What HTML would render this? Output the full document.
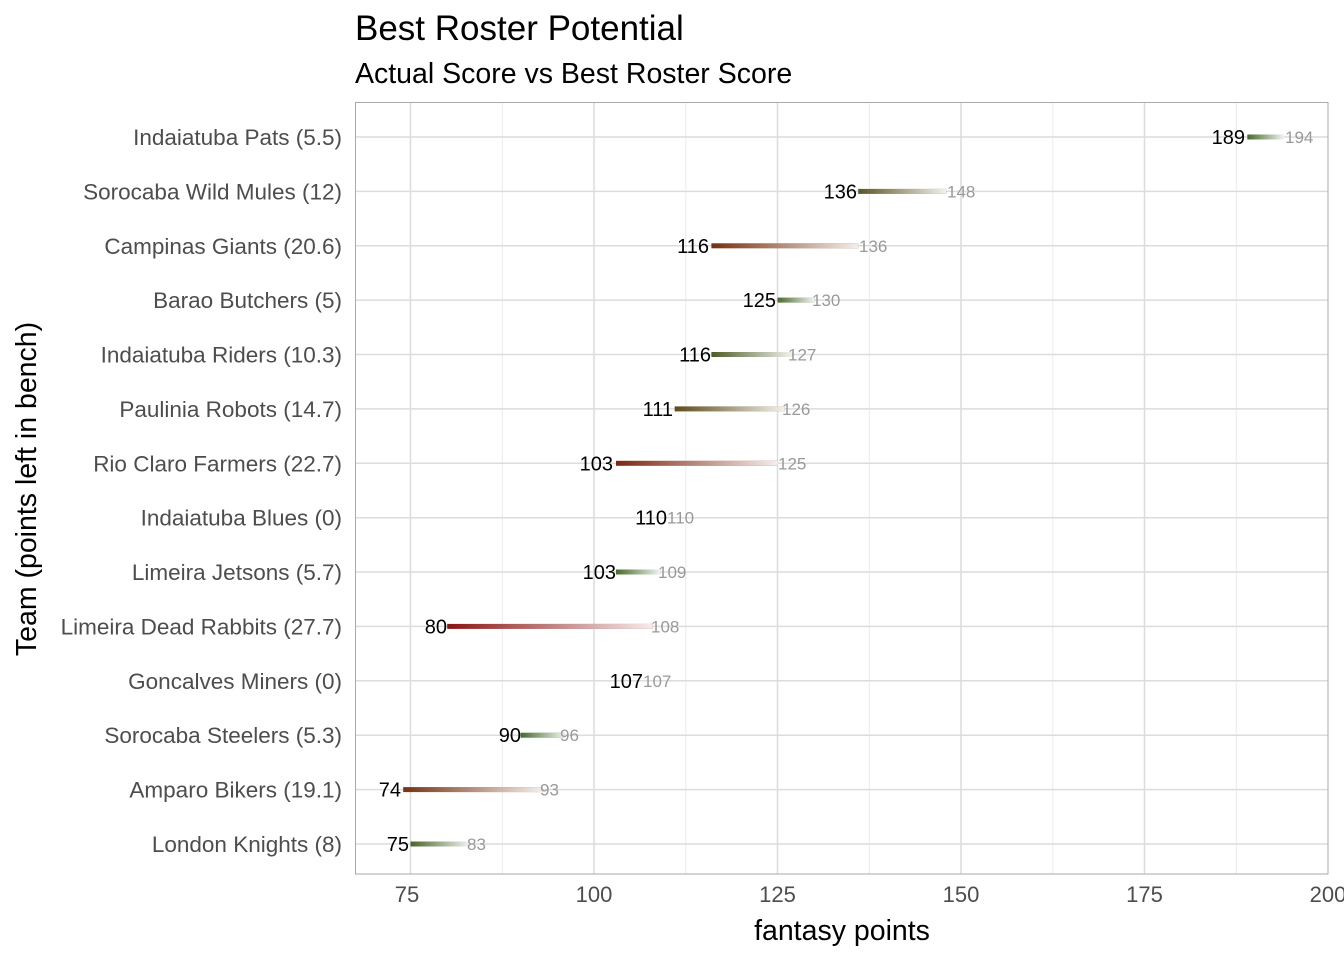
<!DOCTYPE html>
<html><head><meta charset="utf-8"><style>body{margin:0;background:#fff}svg{display:block}</style></head><body>
<svg width="1344" height="960" xmlns="http://www.w3.org/2000/svg" font-family="Liberation Sans, sans-serif">
<defs>
<linearGradient id="g" x1="0" x2="1"><stop offset="0" stop-color="#fff" stop-opacity="0"/><stop offset="1" stop-color="#fff" stop-opacity="0.92"/></linearGradient>
</defs>
<text x="355" y="40" font-size="35" fill="#000">Best Roster Potential</text>
<text x="355" y="83" font-size="28.5" fill="#000">Actual Score vs Best Roster Score</text>
<g stroke="#ebebeb" stroke-width="1">
<line x1="502.3" y1="102" x2="502.3" y2="874"/><line x1="685.8" y1="102" x2="685.8" y2="874"/><line x1="869.3" y1="102" x2="869.3" y2="874"/><line x1="1052.8" y1="102" x2="1052.8" y2="874"/><line x1="1236.3" y1="102" x2="1236.3" y2="874"/>
</g>
<g stroke="#dcdcdc" stroke-width="1.5">
<line x1="410.5" y1="102" x2="410.5" y2="874"/><line x1="594" y1="102" x2="594" y2="874"/><line x1="777.5" y1="102" x2="777.5" y2="874"/><line x1="961" y1="102" x2="961" y2="874"/><line x1="1144.5" y1="102" x2="1144.5" y2="874"/>
<line x1="355" y1="137" x2="1328" y2="137"/><line x1="355" y1="191.4" x2="1328" y2="191.4"/><line x1="355" y1="245.8" x2="1328" y2="245.8"/><line x1="355" y1="300.1" x2="1328" y2="300.1"/><line x1="355" y1="354.5" x2="1328" y2="354.5"/><line x1="355" y1="408.9" x2="1328" y2="408.9"/><line x1="355" y1="463.3" x2="1328" y2="463.3"/><line x1="355" y1="517.7" x2="1328" y2="517.7"/><line x1="355" y1="572" x2="1328" y2="572"/><line x1="355" y1="626.4" x2="1328" y2="626.4"/><line x1="355" y1="680.8" x2="1328" y2="680.8"/><line x1="355" y1="735.2" x2="1328" y2="735.2"/><line x1="355" y1="789.6" x2="1328" y2="789.6"/><line x1="355" y1="844" x2="1328" y2="844"/>
</g>
<rect x="355.5" y="102.5" width="972.5" height="771.5" fill="none" stroke="#aaa" stroke-width="1"/>
<g>
<rect x="1247.3" y="134.5" width="36.7" height="5" fill="#456a2c"/><rect x="1247.3" y="134.5" width="36.7" height="5" fill="url(#g)"/>
<rect x="858.2" y="188.9" width="88.1" height="5" fill="#5b5622"/><rect x="858.2" y="188.9" width="88.1" height="5" fill="url(#g)"/>
<rect x="711.4" y="243.3" width="146.8" height="5" fill="#76300f"/><rect x="711.4" y="243.3" width="146.8" height="5" fill="url(#g)"/>
<rect x="777.5" y="297.6" width="36.7" height="5" fill="#466b2c"/><rect x="777.5" y="297.6" width="36.7" height="5" fill="url(#g)"/>
<rect x="711.4" y="352" width="80.8" height="5" fill="#4d5d24"/><rect x="711.4" y="352" width="80.8" height="5" fill="url(#g)"/>
<rect x="674.7" y="406.4" width="110.1" height="5" fill="#5e4a18"/><rect x="674.7" y="406.4" width="110.1" height="5" fill="url(#g)"/>
<rect x="616" y="460.8" width="161.5" height="5" fill="#7e2610"/><rect x="616" y="460.8" width="161.5" height="5" fill="url(#g)"/>
<rect x="616" y="569.5" width="44.1" height="5" fill="#476a2c"/><rect x="616" y="569.5" width="44.1" height="5" fill="url(#g)"/>
<rect x="447.2" y="623.9" width="205.5" height="5" fill="#8b1414"/><rect x="447.2" y="623.9" width="205.5" height="5" fill="url(#g)"/>
<rect x="520.6" y="732.7" width="44" height="5" fill="#466b2c"/><rect x="520.6" y="732.7" width="44" height="5" fill="url(#g)"/>
<rect x="403.2" y="787.1" width="139.4" height="5" fill="#743212"/><rect x="403.2" y="787.1" width="139.4" height="5" fill="url(#g)"/>
<rect x="410.5" y="841.5" width="58.7" height="5" fill="#49652a"/><rect x="410.5" y="841.5" width="58.7" height="5" fill="url(#g)"/>
</g>
<g font-size="20" fill="#000" text-anchor="end">
<text x="1245" y="144">189</text><text x="857" y="198.4">136</text><text x="709" y="252.8">116</text><text x="776" y="307.1">125</text><text x="711" y="361.5">116</text><text x="673" y="415.9">111</text><text x="613" y="470.3">103</text><text x="667" y="524.7">110</text><text x="616" y="579">103</text><text x="447" y="633.4">80</text><text x="643" y="687.8">107</text><text x="521" y="742.2">90</text><text x="401" y="796.6">74</text><text x="409" y="851">75</text>
</g>
<g font-size="17" fill="#999">
<text x="1285" y="143">194</text><text x="947" y="197.4">148</text><text x="859" y="251.8">136</text><text x="812" y="306.1">130</text><text x="788" y="360.5">127</text><text x="782" y="414.9">126</text><text x="778" y="469.3">125</text><text x="667" y="523.7">110</text><text x="658" y="578">109</text><text x="651" y="632.4">108</text><text x="643" y="686.8">107</text><text x="560" y="741.2">96</text><text x="540" y="795.6">93</text><text x="467" y="850">83</text>
</g>
<g font-size="22.5" fill="#4d4d4d" text-anchor="end">
<text x="342" y="145">Indaiatuba Pats (5.5)</text><text x="342" y="199.4">Sorocaba Wild Mules (12)</text><text x="342" y="253.8">Campinas Giants (20.6)</text><text x="342" y="308.1">Barao Butchers (5)</text><text x="342" y="362.5">Indaiatuba Riders (10.3)</text><text x="342" y="416.9">Paulinia Robots (14.7)</text><text x="342" y="471.3">Rio Claro Farmers (22.7)</text><text x="342" y="525.7">Indaiatuba Blues (0)</text><text x="342" y="580">Limeira Jetsons (5.7)</text><text x="342" y="634.4">Limeira Dead Rabbits (27.7)</text><text x="342" y="688.8">Goncalves Miners (0)</text><text x="342" y="743.2">Sorocaba Steelers (5.3)</text><text x="342" y="797.6">Amparo Bikers (19.1)</text><text x="342" y="852">London Knights (8)</text>
</g>
<g font-size="22" fill="#4d4d4d" text-anchor="middle">
<text x="407" y="902">75</text><text x="594" y="902">100</text><text x="777.5" y="902">125</text><text x="961" y="902">150</text><text x="1144.5" y="902">175</text><text x="1328" y="902">200</text>
</g>
<text x="842" y="940" font-size="28.5" text-anchor="middle" fill="#000">fantasy points</text>
<text transform="translate(36,489) rotate(-90)" font-size="28.5" text-anchor="middle" fill="#000">Team (points left in bench)</text>
</svg>
</body></html>
